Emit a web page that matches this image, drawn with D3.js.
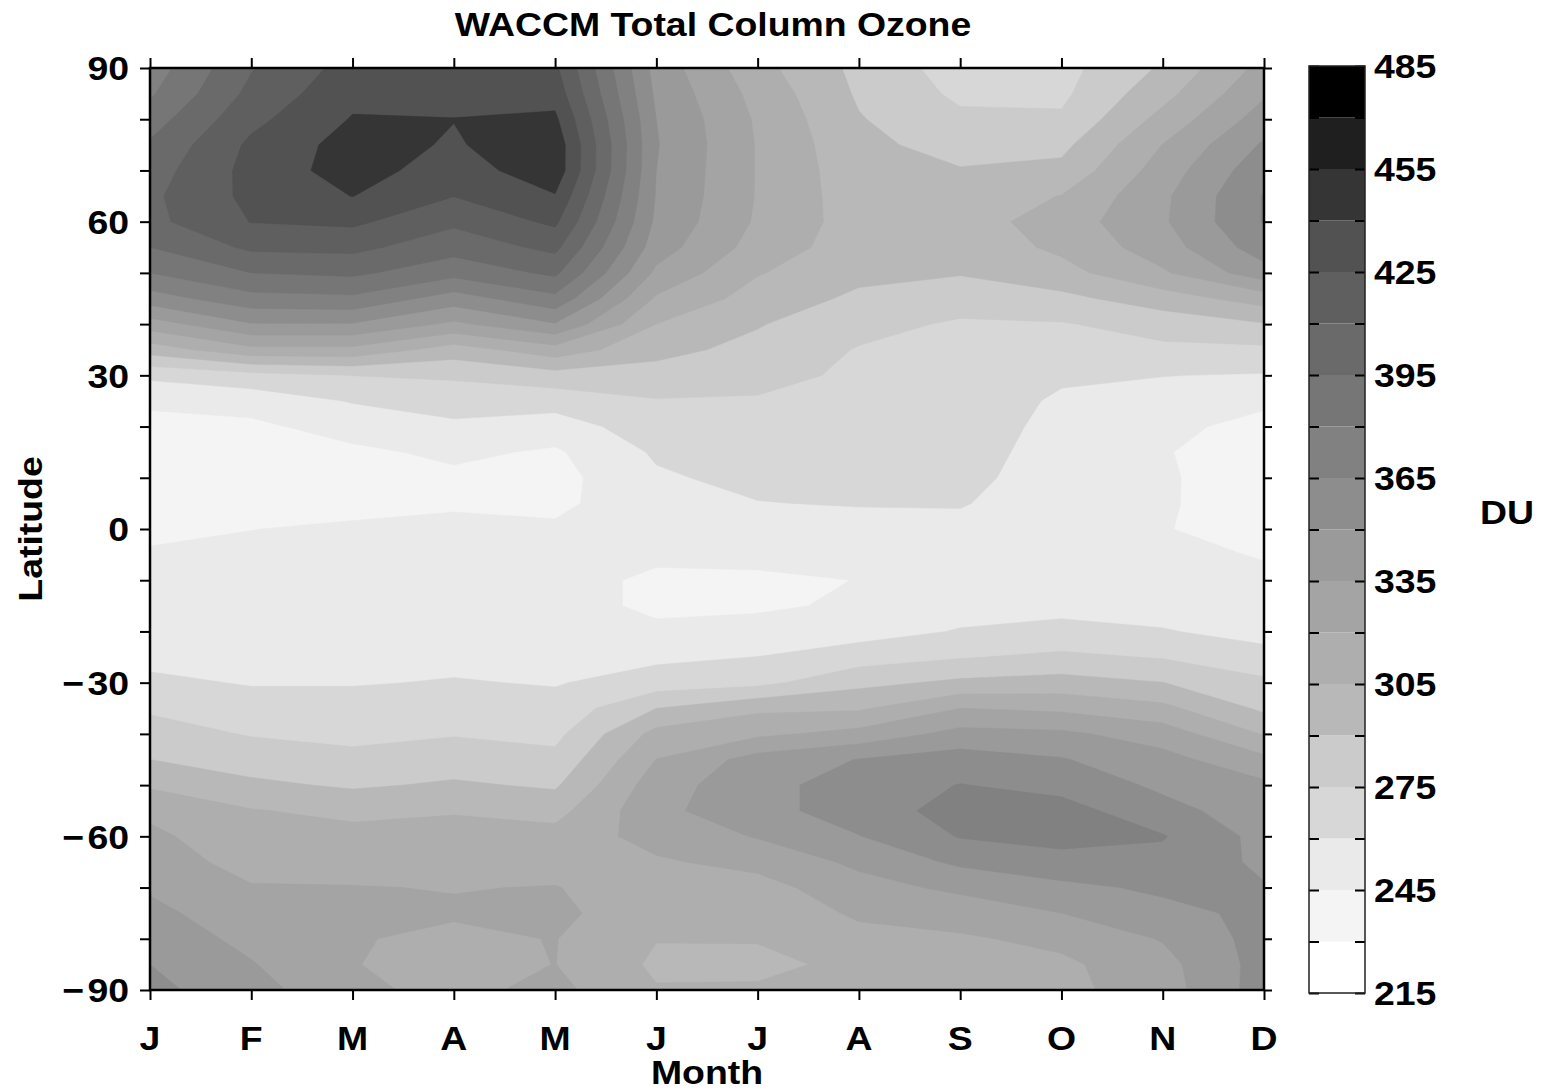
<!DOCTYPE html>
<html>
<head>
<meta charset="utf-8">
<title>WACCM Total Column Ozone</title>
<script src="https://cdn.jsdelivr.net/npm/d3@7"></script>
<style>
  html, body { margin: 0; padding: 0; background: #ffffff; }
  svg text { font-family: "Liberation Sans", Arial, Helvetica, sans-serif; font-weight: bold; fill: #000; }
</style>
</head>
<body>
<svg id="chart" width="1551" height="1092"></svg>
<script>
// Month labels along the x axis (January .. December)
const monthLabels = ["J", "F", "M", "A", "M", "J", "J", "A", "S", "O", "N", "D"];

// Latitude rows of the grid, north to south, every 5 degrees
const latitudes = d3.range(90, -91, -5);

// Monthly zonal-mean total column ozone (DU), one value per latitude row (90N .. 90S)
const tcoJan = [372, 378, 388, 397, 403, 407, 406, 395, 380, 358, 328, 297, 263, 248, 240, 237, 237, 239, 243, 246, 249, 251, 253, 256, 263, 273, 281, 290, 303, 317, 323, 327, 333, 339, 344, 350, 354];
const tcoFeb = [409, 414, 421, 428, 430, 429, 425.5, 413, 395, 375, 349, 316, 270, 251, 242, 239, 238, 240, 244.8, 248, 250, 252, 254, 256, 259, 266, 274, 283, 293, 306, 311, 315, 321, 326, 331, 336, 341];
const tcoMar = [431, 436, 441, 446, 447, 440.3, 428, 414, 398, 377, 349, 316, 275.3, 261, 251, 242, 238, 241, 247, 249, 250, 252, 253, 255, 259, 266, 271, 279, 288, 301, 310, 315, 320.5, 323, 321, 320.5, 323];
const tcoApr = [432, 435, 440.3, 438.5, 432, 425.3, 413, 401, 385, 358, 332, 298, 277, 267, 257, 248, 242, 244, 247, 249, 251, 252, 254, 256, 261, 268, 274, 283, 292, 304, 310, 314, 319.5, 321.5, 317, 315, 316];
const tcoMay = [428, 434, 443, 450, 450, 439, 428, 414, 398, 376, 349, 314, 284, 266, 253, 243, 240, 242, 247, 248, 249, 251, 253, 255, 259, 265, 271, 279, 288, 300, 310, 315, 320.5, 324, 320.5, 320.2, 324];
const tcoJun = [344, 347, 350, 351, 350, 349, 347, 342, 332, 318, 305, 294, 285, 274, 268, 262, 258, 254, 250, 247, 243, 242, 248, 257, 267, 290, 310, 320.3, 328, 331, 326, 318, 313, 309, 305.5, 302.5, 306];
const tcoJul = [310, 315, 318, 319, 319, 319, 318, 314, 306, 299, 291, 286, 282, 273, 270, 267, 264, 259.5, 253, 248, 243, 243, 250, 260.2, 271, 302, 317, 341, 345, 345, 336, 325, 314, 311, 306, 301, 307];
const tcoAug = [286, 288, 291, 294, 296, 297, 298, 297, 294, 287, 280, 274, 271, 270, 268, 266, 264, 261, 254, 249, 245.2, 247, 254, 268, 286, 303, 325, 350.5, 357, 357, 349.5, 338, 330, 322, 316, 309, 313];
const tcoSep = [268, 272, 278, 284, 291, 296, 298, 296, 291, 282, 273, 270, 269, 268, 267, 266, 264, 261, 256, 252, 251, 254, 261, 274, 293, 320, 340, 357, 365.5, 371, 366, 353, 338, 327, 318, 314, 313];
const tcoOct = [270, 272, 277, 286, 294, 305.5, 312, 308, 300, 286, 274, 269, 262, 258, 256, 254, 253, 252, 251, 250, 249, 255, 265, 278, 296, 317, 338, 351, 360, 371, 369, 361, 346, 335, 324, 317, 316];
const tcoNov = [292, 300, 310, 320.3, 327, 332, 333, 328, 318, 298, 281, 272, 260.3, 255, 249, 246, 247, 246.5, 245.5, 249, 251, 254, 261, 274, 290.3, 309, 328, 340, 347, 355, 366, 361, 353, 345, 336, 330, 328];
const tcoDec = [325, 333, 342, 352, 360, 366, 366, 358, 344, 312, 289, 272, 259, 248, 240, 237, 236, 238, 241, 244, 248, 251, 255, 265, 278, 287, 304, 324, 338, 342, 345, 347, 351, 354, 356, 356, 357];

const monthlyColumns = [tcoJan, tcoFeb, tcoMar, tcoApr, tcoMay, tcoJun, tcoJul, tcoAug, tcoSep, tcoOct, tcoNov, tcoDec];

// Contour levels (DU) and the gray used for each band [level, level + 15)
const levels = d3.range(215, 486, 15);
const bandGrays = ["#ffffff", "#f4f4f4", "#eaeaea", "#d7d7d7", "#cbcbcb", "#b8b8b8",
                   "#aeaeae", "#a4a4a4", "#9a9a9a", "#8d8d8d", "#818181", "#767676",
                   "#6a6a6a", "#5f5f5f", "#525252", "#353535", "#1f1f1f", "#000000"];

// Axis ticks and labels
const latMajorTicks = [90, 60, 30, 0, -30, -60, -90];
const latMinorTicks = d3.range(-90, 91, 10);
const colorbarLabels = d3.range(215, 486, 30);

const svg = d3.select("#chart");
const plotBox = { left: 150, right: 1264, top: 68, bottom: 990 };
const barBox = { left: 1309, right: 1365, top: 66, bottom: 993 };

const x = d3.scaleLinear().domain([0, monthLabels.length - 1]).range([plotBox.left, plotBox.right]);
const y = d3.scaleLinear().domain([-90, 90]).range([plotBox.bottom, plotBox.top]);
const latOfRow = d3.scaleLinear().domain(d3.range(latitudes.length)).range(latitudes);
const z = d3.scaleLinear().domain([levels[0], levels[levels.length - 1]]).range([barBox.bottom, barBox.top]);

// Text helper: bold label, slightly widened, anchored at (tx, ty)
function label(parent, tx, ty, str, size, anchor, rotate) {
  return parent.append("text")
    .attr("transform", `translate(${tx},${ty}) rotate(${rotate || 0}) scale(1.1,1)`)
    .attr("text-anchor", anchor || "start")
    .style("font-size", size + "px")
    .text(str);
}

svg.append("rect").attr("width", 1551).attr("height", 1092).attr("fill", "#ffffff");

// ---- filled contours ----
const nx = monthlyColumns.length, ny = latitudes.length;
const grid = new Array(nx * ny);
for (let j = 0; j < ny; j++) {
  for (let i = 0; i < nx; i++) grid[j * nx + i] = monthlyColumns[i][j];
}
const bands = d3.contours().size([nx, ny]).thresholds(levels.slice(0, -1))(grid);
const toScreen = d3.geoTransform({
  point(px, py) { this.stream.point(x(px - 0.5), y(latOfRow(py - 0.5))); }
});
const path = d3.geoPath(toScreen);

svg.append("defs").append("clipPath").attr("id", "plotClip")
  .append("rect")
  .attr("x", plotBox.left).attr("y", plotBox.top)
  .attr("width", plotBox.right - plotBox.left).attr("height", plotBox.bottom - plotBox.top);

svg.append("g").attr("clip-path", "url(#plotClip)")
  .selectAll("path").data(bands).join("path")
  .attr("d", path)
  .attr("fill", (d, i) => bandGrays[i])
  .attr("stroke", (d, i) => bandGrays[i])
  .attr("stroke-width", 0.4);

// ---- axes ----
function styleAxis(g) {
  g.select(".domain").remove();
  g.selectAll(".tick line").attr("stroke", "#000").attr("stroke-width", 2);
  g.selectAll(".tick text").remove();
}
const monthIdx = d3.range(monthLabels.length);
svg.append("g").attr("transform", `translate(0,${plotBox.bottom})`)
  .call(d3.axisBottom(x).tickValues(monthIdx).tickSize(10).tickFormat("")).call(styleAxis);
svg.append("g").attr("transform", `translate(0,${plotBox.top})`)
  .call(d3.axisTop(x).tickValues(monthIdx).tickSize(10).tickFormat("")).call(styleAxis);
svg.append("g").attr("transform", `translate(${plotBox.left},0)`)
  .call(d3.axisLeft(y).tickValues(latMinorTicks).tickSize(10).tickFormat("")).call(styleAxis);
svg.append("g").attr("transform", `translate(${plotBox.right},0)`)
  .call(d3.axisRight(y).tickValues(latMinorTicks).tickSize(8).tickFormat("")).call(styleAxis);

svg.append("rect")
  .attr("x", plotBox.left).attr("y", plotBox.top)
  .attr("width", plotBox.right - plotBox.left).attr("height", plotBox.bottom - plotBox.top)
  .attr("fill", "none").attr("stroke", "#000").attr("stroke-width", 2.5);

const labelSize = 34;
const capShift = labelSize * 0.36;
latMajorTicks.forEach(v => {
  label(svg, 129, y(v) + capShift, v < 0 ? "\u2212\u200a" + Math.abs(v) : String(v), labelSize, "end");
});
monthLabels.forEach((m, i) => label(svg, x(i), 1050, m, labelSize, "middle"));

label(svg, 713, 36, "WACCM Total Column Ozone", labelSize, "middle");
label(svg, 707, 1084, "Month", labelSize, "middle");
label(svg, 42, 529, "Latitude", labelSize, "middle", -90);

// ---- colour bar ----
const bar = svg.append("g");
bar.selectAll("rect.band").data(levels.slice(0, -1)).join("rect")
  .attr("class", "band")
  .attr("x", barBox.left).attr("width", barBox.right - barBox.left)
  .attr("y", d => z(d + 15)).attr("height", d => z(d) - z(d + 15))
  .attr("fill", (d, i) => bandGrays[i]);
bar.append("g").attr("transform", `translate(${barBox.left},0)`)
  .call(d3.axisRight(z).tickValues(levels).tickSize(10).tickFormat("")).call(styleAxis);
bar.append("g").attr("transform", `translate(${barBox.right},0)`)
  .call(d3.axisLeft(z).tickValues(levels).tickSize(10).tickFormat("")).call(styleAxis);
bar.append("rect")
  .attr("x", barBox.left).attr("y", barBox.top)
  .attr("width", barBox.right - barBox.left).attr("height", barBox.bottom - barBox.top)
  .attr("fill", "none").attr("stroke", "#222").attr("stroke-width", 1.5);
colorbarLabels.forEach(v => label(bar, 1374, z(v) + capShift, String(v), labelSize, "start"));

label(svg, 1480, 524, "DU", labelSize, "start");
</script>
</body>
</html>
